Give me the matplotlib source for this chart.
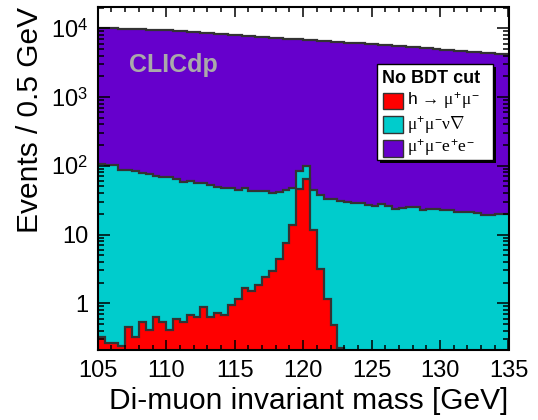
import numpy as np
import matplotlib
matplotlib.use("Agg")
import matplotlib.pyplot as plt
from matplotlib.patches import Rectangle
from matplotlib.ticker import MultipleLocator, LogLocator, FixedLocator, NullFormatter

plt.rcParams['font.family'] = ['Liberation Sans', 'DejaVu Sans']
plt.rcParams['mathtext.fontset'] = 'custom'
plt.rcParams['mathtext.rm'] = 'Liberation Sans'
plt.rcParams['mathtext.it'] = 'Liberation Serif'
plt.rcParams['mathtext.bf'] = 'Liberation Sans:bold'

# ------------------------------------------------------------
# data: 0.5 GeV bins from 105 to 135 GeV
# ------------------------------------------------------------
m_lo, m_hi, bin_w = 105.0, 135.0, 0.5
edges = np.arange(m_lo, m_hi + bin_w / 2, bin_w)

# h -> mu mu signal
sig_h = [0.32, 0.26, 0.26, 0.24, 0.45, 0.32, 0.54, 0.41, 0.63, 0.54,
         0.41, 0.59, 0.54, 0.68, 0.63, 0.88, 0.63, 0.71, 0.68, 0.94,
         1.16, 1.67, 1.50, 1.85, 2.42, 2.93, 4.44, 7.43, 13.6, 46.7,
         63.9, 11.6, 3.10, 1.17, 0.48, 0.22, 0, 0, 0, 0,
         0, 0, 0, 0, 0, 0, 0, 0, 0, 0,
         0, 0, 0, 0, 0, 0, 0, 0, 0, 0]

# mu mu nu nu background
bkg_nunu = [105.7, 102.7, 100.7, 87.8, 86.6, 82.7, 78.5, 75.6, 70.4, 67.5,
            67.6, 64.4, 58.5, 59.3, 55.4, 55.1, 52.4, 48.3, 47.3, 46.1,
            43.8, 46.3, 41.5, 41.2, 40.6, 37.1, 37.6, 37.6, 34.4, 36.3,
            35.1, 33.4, 33.9, 31.8, 32.5, 30.8, 30.0, 29.0, 28.6, 27.0,
            26.0, 28.0, 25.6, 23.4, 24.7, 25.3, 25.0, 22.9, 23.4, 23.4,
            22.9, 22.4, 21.4, 21.6, 21.6, 20.7, 19.4, 19.4, 20.2, 19.8]

# mu mu e e background
bkg_ee = [10090, 10040, 9920, 9840, 9750, 9670, 9580, 9490, 9440, 9370,
          9220, 9100, 8960, 8810, 8670, 8530, 8400, 8250, 8120, 7990,
          7865, 7730, 7620, 7510, 7390, 7270, 7150, 7055, 6930, 6810,
          6680, 6635, 6550, 6460, 6365, 6280, 6180, 6090, 6010, 5910,
          5835, 5740, 5655, 5555, 5475, 5385, 5285, 5195, 5095, 4985,
          4885, 4800, 4700, 4630, 4550, 4480, 4410, 4340, 4270, 4200]

labels = ['h \u2192 $\\mu^{+}\\mu^{-}$', r'$\mu^{+}\mu^{-}\nu\nabla$',
          r'$\mu^{+}\mu^{-}e^{+}e^{-}$']
colors = ['#ff0000', '#00cccc', '#6600cc']
line_col = '#333333'

# stack
s1 = np.array(sig_h, dtype=float)
s2 = s1 + np.array(bkg_nunu)
s3 = s2 + np.array(bkg_ee)

# ------------------------------------------------------------
# figure
# ------------------------------------------------------------
W, H = 538, 420
AX_L, AX_R, AX_T, AX_B = 97.8, 508.5, 7.3, 350.0

fig = plt.figure(figsize=(W / 100, H / 100), dpi=100)
ax = fig.add_axes([AX_L / W, 1 - AX_B / H, (AX_R - AX_L) / W, (AX_B - AX_T) / H])
ax.set_yscale('log')


def px2ax(px, py):
  return (px - AX_L) / (AX_R - AX_L), (AX_B - py) / (AX_B - AX_T)


floor = 1e-3
for top, base, c in [(s3, s2, colors[2]), (s2, np.maximum(s1, floor), colors[1]),
                     (np.maximum(s1, floor), floor, colors[0])]:
  ax.stairs(top, edges, baseline=base, fill=True, color=c, lw=0)
for top in [s3, s2, np.maximum(s1, floor)]:
  ax.stairs(top, edges, baseline=None, color=line_col, lw=1.6)

ax.set_xlim(m_lo, m_hi)
ax.set_ylim(0.209, 2.02e4)

ax.xaxis.set_major_locator(MultipleLocator(5))
ax.xaxis.set_minor_locator(MultipleLocator(1))
ax.yaxis.set_major_locator(FixedLocator([1, 10, 100, 1000, 10000]))
ax.yaxis.set_minor_locator(LogLocator(base=10, subs=np.arange(2, 10)))
ax.yaxis.set_minor_formatter(NullFormatter())
ax.set_yticklabels(['1', '10', r'$10^{2}$', r'$10^{3}$', r'$10^{4}$'])

ax.tick_params(which='both', direction='in', top=True, right=True,
               labelsize=17, width=1.1, colors='black')
ax.tick_params(axis='x', which='major', length=7.2, pad=7)
ax.tick_params(axis='x', which='minor', length=3.6)
ax.tick_params(axis='y', which='major', length=8.6, pad=7)
ax.tick_params(axis='y', which='minor', length=4.3)
for sp in ax.spines.values():
  sp.set_linewidth(1.5)

ax.set_xlabel('Di-muon invariant mass [GeV]', fontsize=21.5, loc='right')
ax.xaxis.set_label_coords(1.0, -0.108)
ax.set_ylabel('Events / 0.5 GeV', fontsize=21.5, loc='top')
ax.yaxis.set_label_coords(-0.131, 1.0)

ax.text(*px2ax(129, 72), 'CLICdp', transform=ax.transAxes, fontsize=18,
        fontweight='bold', color='#aaaaaa', ha='left', va='baseline')

# legend box (ROOT style with drop shadow)
lx0, ly0, lx1, ly1 = 377.3, 64.0, 493.3, 160.0
sx, sy = px2ax(lx0 + 3, ly1 + 3)
bx, by = px2ax(lx0, ly1)
bw = (lx1 - lx0) / (AX_R - AX_L)
bh = (ly1 - ly0) / (AX_B - AX_T)
ax.add_patch(Rectangle((sx, sy), bw, bh, transform=ax.transAxes,
                       facecolor='black', edgecolor='black', lw=0, zorder=10, clip_on=False))
ax.add_patch(Rectangle((bx, by), bw, bh, transform=ax.transAxes,
                       facecolor='white', edgecolor='black', lw=1.0, zorder=11, clip_on=False))
ax.text(*px2ax(381.7, 83.3), 'No BDT cut', transform=ax.transAxes, fontsize=13,
        fontweight='bold', ha='left', va='baseline', zorder=12)

entry_y = [92.7, 116.0, 140.0]
for lab, c, ey in zip(labels, colors, entry_y):
  ex, eyb = px2ax(382.7, ey + 16.7)
  ax.add_patch(Rectangle((ex, eyb), 20 / (AX_R - AX_L), 16.7 / (AX_B - AX_T),
                         transform=ax.transAxes, facecolor=c, edgecolor=line_col,
                         lw=1.0, zorder=12, clip_on=False))
  ax.text(*px2ax(406.7, ey + 8.3), lab, transform=ax.transAxes, fontsize=12.5,
          ha='left', va='center', zorder=12)

fig.savefig('out.png', dpi=100)
